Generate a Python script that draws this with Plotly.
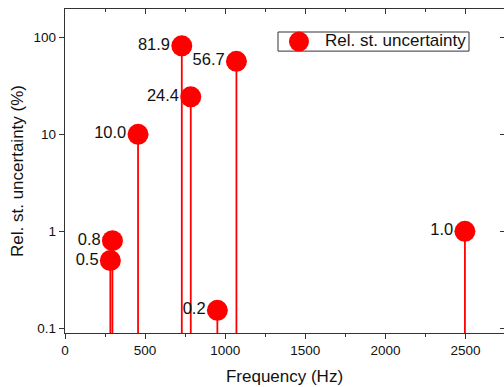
import plotly.graph_objects as go

# Data
freq_hz = [283, 296, 456, 729, 785, 951, 1070, 2496]
rel_unc = [0.5, 0.8, 10.0, 81.9, 24.4, 0.153, 56.7, 1.0]
labels = [f"{v:.1f}" for v in rel_unc]
legend_label = "Rel. st. uncertainty"

x_range = [0, 2740]
y_range_log = [-1.049, 2.293]
y_ticks = [0.1, 1, 10, 100]
y_ticktext = ["0.1", "1", "10", "100"]
x_ticks = [0, 500, 1000, 1500, 2000, 2500]

RED = "#FF0000"
FONT = "Arial, Liberation Sans, sans-serif"
AX = "#333333"
MSIZE = 21

# stems from the bottom of the axis to each point
stem_x, stem_y = [], []
bottom = 10 ** (y_range_log[0] - 0.5)
for xv, yv in zip(freq_hz, rel_unc):
    stem_x += [xv, xv, None]
    stem_y += [bottom, yv, None]

fig = go.Figure()
fig.add_trace(go.Scatter(x=stem_x, y=stem_y, mode="lines",
                         line=dict(color=RED, width=1.8),
                         showlegend=False, hoverinfo="skip"))
fig.add_trace(go.Scatter(x=freq_hz, y=rel_unc, mode="markers",
                         marker=dict(color=RED, size=MSIZE, line=dict(width=0)),
                         name=legend_label, showlegend=False))
# labels: invisible markers of the same size so text sits beside the dot
fig.add_trace(go.Scatter(x=freq_hz, y=rel_unc, mode="markers+text", text=labels,
                         textposition="middle left",
                         marker=dict(size=MSIZE * 0.82, opacity=0),
                         textfont=dict(family=FONT, size=16.5, color="#111"),
                         showlegend=False, hoverinfo="skip"))
# helper traces for mirrored axes
fig.add_trace(go.Scatter(x=[None], y=[None], xaxis="x2", yaxis="y",
                         showlegend=False, hoverinfo="skip"))
fig.add_trace(go.Scatter(x=[None], y=[None], xaxis="x", yaxis="y2",
                         showlegend=False, hoverinfo="skip"))

# legend drawn as a framed box
lx0, lx1, ly0, ly1 = 0.4852, 0.9203, 0.870, 0.929
lyc = (ly0 + ly1) / 2
fig.add_shape(type="rect", xref="paper", yref="paper", x0=lx0, x1=lx1,
              y0=ly0, y1=ly1, line=dict(color=AX, width=1), fillcolor="white",
              layer="above")
fig.add_shape(type="circle", xref="paper", yref="paper",
              xsizemode="pixel", ysizemode="pixel", xanchor=0.533, yanchor=lyc,
              x0=-10, x1=10, y0=-10, y1=10, fillcolor=RED,
              line=dict(width=0), layer="above")
fig.add_annotation(x=0.5877, y=lyc + 0.002, xref="paper", yref="paper",
                   xanchor="left", yanchor="middle", showarrow=False,
                   text=legend_label, font=dict(size=17, color="#111"))

fig.update_layout(
    width=504, height=387,
    margin=dict(l=65, r=0, t=9, b=54),
    paper_bgcolor="white", plot_bgcolor="white",
    font=dict(family=FONT, color="#111"),
    xaxis=dict(range=x_range, tickvals=x_ticks, ticks="outside", ticklen=5,
               tickwidth=1.2, tickcolor=AX, showline=True, linecolor=AX,
               linewidth=1.4, showgrid=False, zeroline=False,
               tickfont=dict(size=13.5),
               minor=dict(dtick=250, tick0=0, ticks="outside", ticklen=3,
                          tickcolor=AX, tickwidth=1.2, showgrid=False),
               title=dict(text="Frequency (Hz)", font=dict(size=17), standoff=12)),
    xaxis2=dict(range=x_range, overlaying="x", side="top", anchor="y",
                tickvals=x_ticks, ticks="inside", ticklen=5, tickwidth=1.2,
                tickcolor=AX, showline=True, linecolor=AX, linewidth=1.4,
                showticklabels=False, showgrid=False, zeroline=False,
                minor=dict(dtick=250, tick0=0, ticks="inside", ticklen=3,
                           tickcolor=AX, tickwidth=1.2, showgrid=False)),
    yaxis=dict(type="log", range=y_range_log, tickvals=y_ticks,
               ticktext=y_ticktext, ticks="outside", ticklen=5, tickwidth=1.2,
               tickcolor=AX, showline=True, linecolor=AX, linewidth=1.4,
               showgrid=False, zeroline=False, tickfont=dict(size=13.5),
               title=dict(text="Rel. st. uncertainty (%)", font=dict(size=17),
                          standoff=5)),
    yaxis2=dict(type="log", range=y_range_log, overlaying="y", side="right",
                anchor="x", tickvals=y_ticks, ticks="inside", ticklen=4,
                tickwidth=1.2, tickcolor=AX, showline=False,
                showticklabels=False, showgrid=False, zeroline=False),
    showlegend=False,
)

fig.write_html("out.html")
